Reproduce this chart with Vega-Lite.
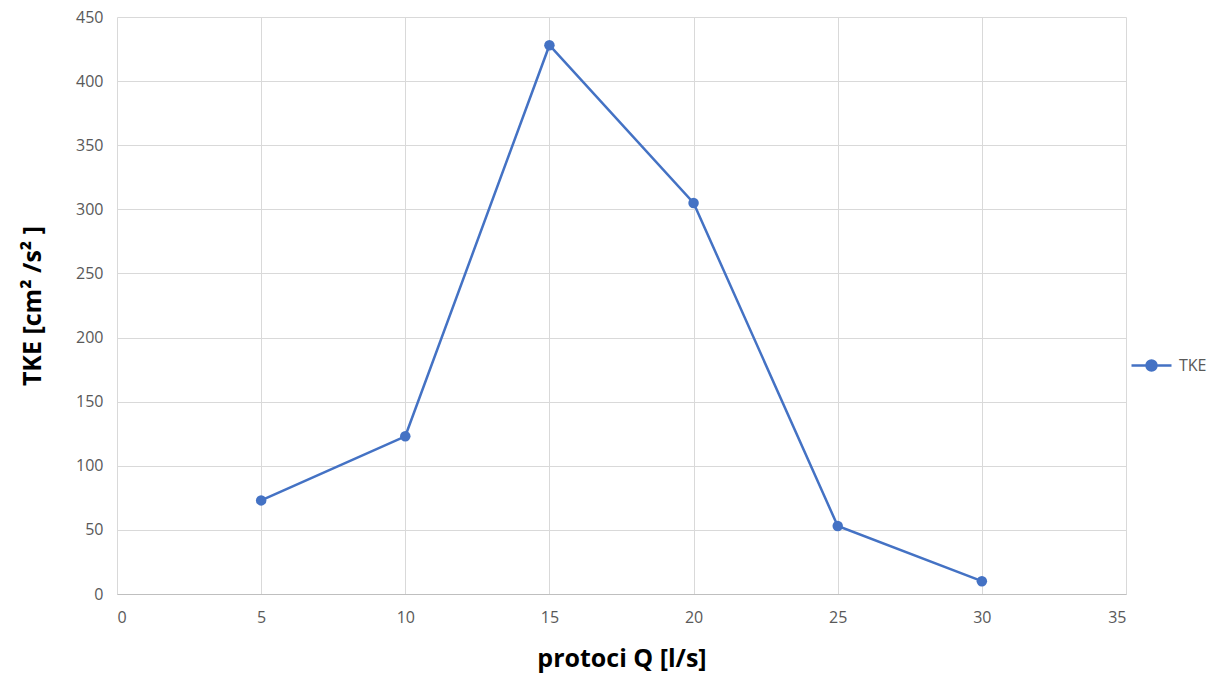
{
  "$schema": "https://vega.github.io/schema/vega-lite/v6.json",
  "autosize": "none",
  "width": 1009,
  "height": 577,
  "padding": {"left": 117, "top": 17, "right": 92, "bottom": 84},
  "background": "white",
  "config": {
    "view": {"stroke": null},
    "font": "Open Sans"
  },
  "data": {
    "values": [
      {"Q": 5, "TKE": 73, "series": "TKE"},
      {"Q": 10, "TKE": 123, "series": "TKE"},
      {"Q": 15, "TKE": 428, "series": "TKE"},
      {"Q": 20, "TKE": 305, "series": "TKE"},
      {"Q": 25, "TKE": 53, "series": "TKE"},
      {"Q": 30, "TKE": 10, "series": "TKE"}
    ]
  },
  "mark": {"type": "line", "strokeWidth": 2.5, "point": {"filled": true, "size": 110}},
  "encoding": {
    "x": {
      "field": "Q", "type": "quantitative",
      "scale": {"domain": [0, 35], "nice": false},
      "axis": {
        "title": "protoci Q [l/s]",
        "values": [0, 5, 10, 15, 20, 25, 30, 35],
        "ticks": false,
        "domainColor": "#BFBFBF",
        "gridColor": "#D9D9D9",
        "labelColor": "#595959",
        "labelFontSize": 16,
        "labelPadding": 15,
        "titleFontSize": 25,
        "titleFontWeight": "bold",
        "titleColor": "#000000",
        "titlePadding": 21
      }
    },
    "y": {
      "field": "TKE", "type": "quantitative",
      "scale": {"domain": [0, 450], "nice": false},
      "axis": {
        "title": "TKE [cm² /s² ]",
        "values": [0, 50, 100, 150, 200, 250, 300, 350, 400, 450],
        "ticks": false,
        "domain": false,
        "gridColor": "#D9D9D9",
        "labelColor": "#595959",
        "labelFontSize": 16,
        "labelPadding": 14,
        "titleFontSize": 25,
        "titleFontWeight": "bold",
        "titleColor": "#000000",
        "titlePadding": 30
      }
    },
    "color": {
      "field": "series", "type": "nominal",
      "scale": {"range": ["#4472C4"]},
      "legend": {
        "title": null,
        "orient": "none",
        "legendX": 1013,
        "legendY": 327,
        "symbolType": "M-1,0L1,0M0.25,0A0.25,0.25,0,1,1,-0.25,0A0.25,0.25,0,1,1,0.25,0",
        "symbolSize": 1600,
        "symbolStrokeWidth": 2.5,
        "symbolFillColor": "#4472C4",
        "symbolStrokeColor": "#4472C4",
        "labelFontSize": 16,
        "labelColor": "#595959",
        "labelOffset": 6
      }
    }
  }
}
